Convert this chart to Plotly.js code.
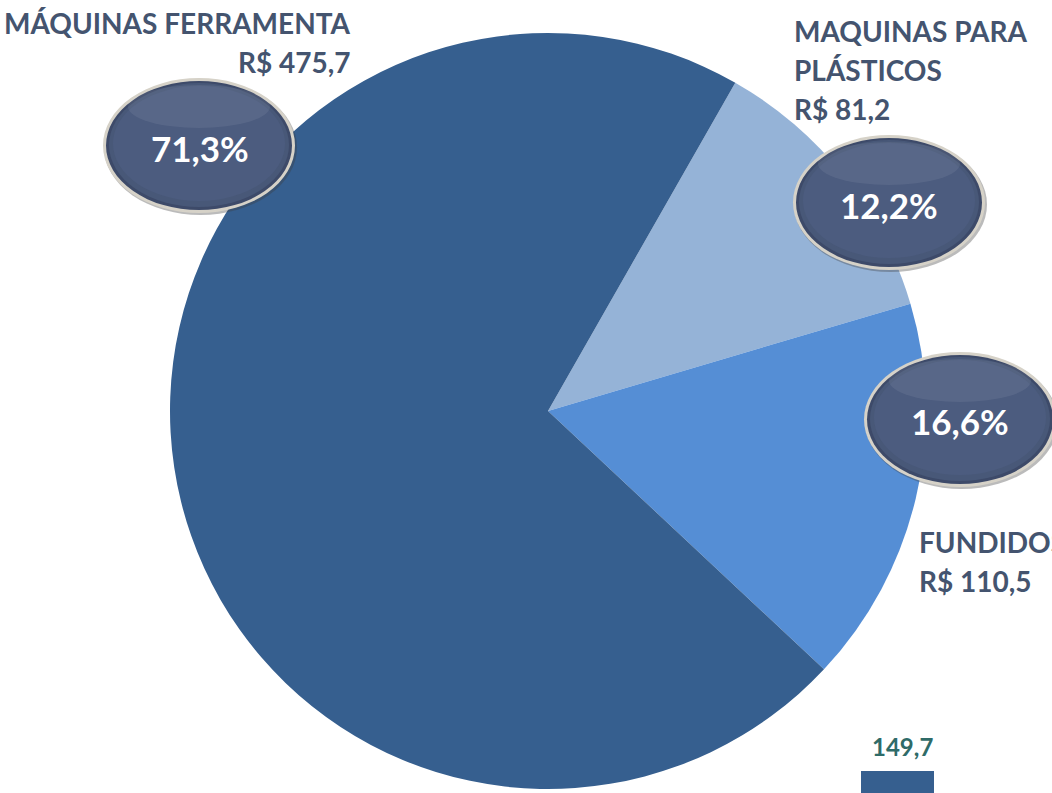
<!DOCTYPE html>
<html>
<head>
<meta charset="utf-8">
<script src="https://cdn.plot.ly/plotly-3.0.1.min.js"></script>
<style>html,body{margin:0;padding:0;background:#fff}#chart{width:1052px;height:793px}</style>
</head>
<body>
<div id="chart"></div>
<script>
// Data
const categories = ["MAQUINAS PARA PLÁSTICOS", "FUNDIDOS", "MÁQUINAS FERRAMENTA"];
const values = [81.2, 110.5, 475.7];
const percentLabels = ["12,2%", "16,6%", "71,3%"];
const valueLabels = ["R$ 81,2", "R$ 110,5", "R$ 475,7"];
const extraValueLabel = "149,7";
const sliceColors = ["#95b3d7", "#558ed5", "#365f8f"];

const W = 1052, H = 793;
const px = x => x / W;
const py = y => 1 - y / H;

const labelColor = "#44546f";
const font = "Lato, 'Open Sans', 'Liberation Sans', sans-serif";

const cx = 548, cy = 411, R = 378;

const trace = {
  type: "pie",
  labels: categories,
  values: values,
  sort: false,
  direction: "clockwise",
  rotation: 29.7,
  textinfo: "none",
  hoverinfo: "label+value+percent",
  marker: {colors: sliceColors, line: {width: 0}},
  showlegend: false,
  domain: {x: [px(cx - R), px(cx + R)], y: [py(cy + R), py(cy - R)]}
};

function ell(x0, y0, x1, y1, fill) {
  return {type: "circle", xref: "paper", yref: "paper", x0: px(x0), x1: px(x1), y0: py(y1), y1: py(y0),
    fillcolor: fill, line: {width: 0}, layer: "above"};
}

function ellipseShapes(x0, y0, x1, y1) {
  return [
    ell(x0 + 1, y0 + 2, x1 + 2, y1 + 2, "rgba(60,60,60,0.35)"),   // soft shadow
    ell(x0, y0, x1, y1, "#d6d2c8"),                              // rim
    ell(x0 + 3, y0 + 3, x1 - 3, y1 - 3, "#3d4a69"),              // dark edge
    ell(x0 + 6, y0 + 5, x1 - 6, y1 - 6, "#485878"),
    ell(x0 + 10, y0 + 8, x1 - 10, y1 - 12, "#4c5c7f"),
    ell(x0 + 25, y0 + 7, x1 - 25, y1 - 85, "rgba(255,255,255,0.07)") // top highlight
  ];
}

const shapes = []
  .concat(ellipseShapes(103, 78, 295, 213))
  .concat(ellipseShapes(793, 135, 985, 270))
  .concat(ellipseShapes(864, 352, 1056, 487));

shapes.push({type: "rect", xref: "paper", yref: "paper", x0: px(861), x1: px(934), y0: py(793), y1: py(771),
  fillcolor: "#365f8f", line: {width: 0}, layer: "above"});

function ann(text, x, y, xanchor, size, color) {
  return {text: "<b>" + text + "</b>", x: px(x), y: py(y), xref: "paper", yref: "paper", xanchor: xanchor, yanchor: "middle",
    showarrow: false, font: {family: font, size: size, color: color}};
}

const annotations = [
  ann("MÁQUINAS FERRAMENTA", 353, 23, "right", 28, labelColor),
  ann(valueLabels[2], 353, 62, "right", 28, labelColor),
  ann("MAQUINAS PARA", 792, 31, "left", 28, labelColor),
  ann("PLÁSTICOS", 792, 70, "left", 28, labelColor),
  ann(valueLabels[0], 792, 109, "left", 28, labelColor),
  ann("FUNDIDOS", 917, 542, "left", 28, labelColor),
  ann(valueLabels[1], 917, 581, "left", 28, labelColor),
  ann(percentLabels[2], 200, 148, "center", 35, "#ffffff"),
  ann(percentLabels[0], 889, 205, "center", 35, "#ffffff"),
  ann(percentLabels[1], 960, 421, "center", 35, "#ffffff"),
  ann(extraValueLabel, 902, 746, "center", 24, "#2f6b68")
];

const layout = {
  width: W, height: H,
  margin: {l: 0, r: 0, t: 0, b: 0},
  paper_bgcolor: "#ffffff",
  showlegend: false,
  shapes: shapes,
  annotations: annotations
};

Plotly.newPlot("chart", [trace], layout, {displayModeBar: false, staticPlot: true});
</script>
</body>
</html>
